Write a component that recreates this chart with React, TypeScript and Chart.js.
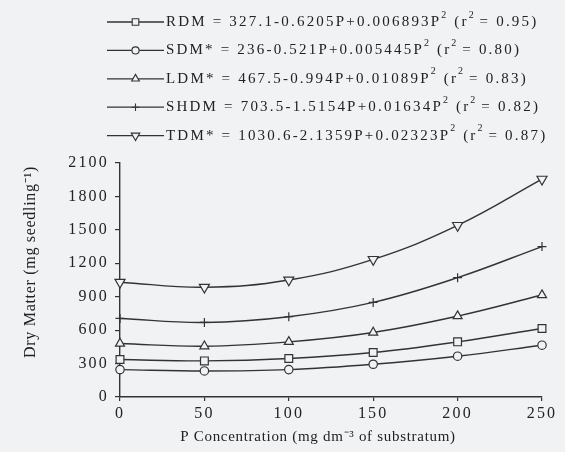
import React, { useEffect, useRef } from 'react';
import { Chart, registerables } from 'chart.js';
import { drawPoint } from 'chart.js/helpers';

Chart.register(...registerables);

// ---- Data ----
const pConcentrations = [0, 50, 100, 150, 200, 250];
const rdmValues = [336, 324, 345, 399, 495, 615];
const sdmValues = [246, 234, 246, 294, 366, 465];
const ldmValues = [480, 456, 495, 579, 726, 915];
const shdmValues = [705, 669, 720, 849, 1071, 1350];
const tdmValues = [1030, 985, 1050, 1235, 1540, 1955];

const seriesNames = ['RDM', 'SDM*', 'LDM*', 'SHDM', 'TDM*'];
const seriesEquations = [
  '327.1-0.6205P+0.006893P',
  '236-0.521P+0.005445P',
  '467.5-0.994P+0.01089P',
  '703.5-1.5154P+0.01634P',
  '1030.6-2.1359P+0.02323P',
];
const seriesR2 = ['0.95', '0.80', '0.83', '0.82', '0.87'];
const seriesMarkers = ['rect', 'circle', 'triangle', 'cross', 'triangle'];
const seriesRotations = [0, 0, 0, 0, 180];
const seriesRadii = [5.5, 4.2, 5.2, 4.5, 5.8];

const xTickValues = [0, 50, 100, 150, 200, 250];
const yTickValues = [0, 300, 600, 900, 1200, 1500, 1800, 2100];

const xTitle = 'P Concentration (mg dm\u207B\u00B3 of substratum)';
const yTitle = 'Dry Matter (mg seedling\u207B\u00B9)';

const seriesValues = [rdmValues, sdmValues, ldmValues, shdmValues, tdmValues];

const BG = '#f1f2f4';
const INK = '#222222';
const LINE = '#333333';
const FONT = '"Liberation Serif", "Times New Roman", serif';

const spacingPlugin = {
  id: 'spacing',
  beforeLayout(chart: any) {
    chart.ctx.letterSpacing = '2.2px';
  },
  beforeDraw(chart: any) {
    const ctx = chart.ctx;
    ctx.save();
    ctx.fillStyle = BG;
    ctx.fillRect(0, 0, chart.width, chart.height);
    ctx.restore();
    ctx.letterSpacing = '2.2px';
  },
};

const annotPlugin = {
  id: 'annot',
  afterDraw(chart: any) {
    const ctx = chart.ctx as CanvasRenderingContext2D;
    const area = chart.chartArea;
    ctx.save();
    ctx.fillStyle = INK;
    ctx.textBaseline = 'middle';

    // Axis titles
    ctx.font = `15px ${FONT}`;
    (ctx as any).letterSpacing = '0.7px';
    ctx.textAlign = 'center';
    ctx.fillText(xTitle, (area.left + area.right) / 2 - 13, 437);
    ctx.save();
    ctx.translate(31, (area.top + area.bottom) / 2 - 18);
    ctx.rotate(-Math.PI / 2);
    ctx.font = `16px ${FONT}`;
    ctx.fillText(yTitle, 0, 0);
    ctx.restore();

    // Legend
    ctx.textAlign = 'left';
    seriesNames.forEach((name, i) => {
      const y = 22 + i * 28.4;
      ctx.strokeStyle = LINE;
      ctx.lineWidth = 1.3;
      ctx.beginPath();
      ctx.moveTo(107, y);
      ctx.lineTo(164, y);
      ctx.stroke();
      ctx.fillStyle = BG;
      ctx.strokeStyle = LINE;
      ctx.lineWidth = 1.1;
      drawPoint(ctx, {
        pointStyle: seriesMarkers[i] as any,
        radius: seriesRadii[i] * 0.85,
        rotation: seriesRotations[i],
        borderWidth: 1.1,
      } as any, 135.5, y);
      ctx.fillStyle = INK;
      let x = 166;
      const main = `${name} = ${seriesEquations[i]}`;
      ctx.font = `15px ${FONT}`;
      (ctx as any).letterSpacing = '2.2px';
      ctx.fillText(main, x, y);
      x += ctx.measureText(main).width;
      ctx.font = `10px ${FONT}`;
      (ctx as any).letterSpacing = '0px';
      ctx.fillText('2', x, y - 7);
      x += ctx.measureText('2').width + 2;
      ctx.font = `15px ${FONT}`;
      (ctx as any).letterSpacing = '2.2px';
      ctx.fillText(' (r', x, y);
      x += ctx.measureText(' (r').width;
      ctx.font = `10px ${FONT}`;
      (ctx as any).letterSpacing = '0px';
      ctx.fillText('2', x, y - 7);
      x += ctx.measureText('2').width;
      ctx.font = `15px ${FONT}`;
      (ctx as any).letterSpacing = '2.2px';
      ctx.fillText(` = ${seriesR2[i]})`, x, y);
    });
    ctx.restore();
  },
};

export default function App() {
  const canvasRef = useRef<HTMLCanvasElement | null>(null);

  useEffect(() => {
    if (!canvasRef.current) return;
    const datasets = seriesNames.map((name, i) => ({
      label: name,
      data: pConcentrations.map((p, j) => ({ x: p, y: seriesValues[i][j] })),
      borderColor: LINE,
      borderWidth: 1.4,
      tension: 0.4,
      clip: false as any,
      pointStyle: seriesMarkers[i] as any,
      pointRotation: seriesRotations[i],
      pointRadius: seriesRadii[i],
      pointBorderWidth: 1.2,
      pointBorderColor: LINE,
      pointBackgroundColor: BG,
      fill: false,
    }));

    const chart = new Chart(canvasRef.current, {
      type: 'line',
      data: { datasets },
      options: {
        responsive: false,
        animation: false,
        events: [],
        layout: { padding: { top: 163, right: 23, left: 0, bottom: 0 } },
        plugins: {
          legend: { display: false },
          tooltip: { enabled: false },
        },
        scales: {
          x: {
            type: 'linear',
            min: 0,
            max: 250,
            afterFit: (s: any) => {
              s.height = 55;
            },
            afterBuildTicks: (s: any) => {
              s.ticks = xTickValues.map((v) => ({ value: v }));
            },
            grid: {
              display: true,
              drawOnChartArea: false,
              drawTicks: true,
              tickLength: 4,
              color: LINE,
              lineWidth: 1.2,
            },
            border: { display: true, color: LINE, width: 1.4 },
            ticks: {
              color: INK,
              padding: 3,
              maxRotation: 0,
              font: { family: FONT, size: 16 },
              callback: (v: any) => String(v),
            },
          },
          y: {
            type: 'linear',
            min: 0,
            max: 2100,
            afterFit: (s: any) => {
              s.width = 120;
            },
            afterBuildTicks: (s: any) => {
              s.ticks = yTickValues.map((v) => ({ value: v }));
            },
            grid: {
              display: true,
              drawOnChartArea: false,
              drawTicks: true,
              tickLength: 5,
              color: LINE,
              lineWidth: 1.2,
            },
            border: { display: true, color: LINE, width: 1.4 },
            ticks: {
              color: INK,
              padding: 6,
              font: { family: FONT, size: 16 },
              callback: (v: any) => String(v),
            },
          },
        },
      },
      plugins: [spacingPlugin, annotPlugin],
    });
    return () => chart.destroy();
  }, []);

  return (
    <div
      style={{
        position: 'fixed',
        left: 0,
        top: 0,
        width: 565,
        height: 452,
        background: BG,
      }}
    >
      <canvas ref={canvasRef} width={565} height={452} style={{ display: 'block' }} />
    </div>
  );
}
